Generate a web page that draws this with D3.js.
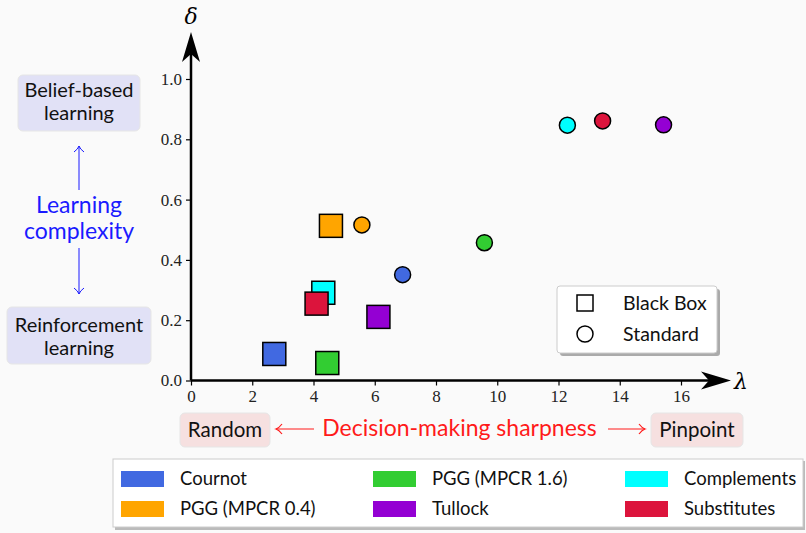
<!DOCTYPE html>
<html>
<head>
<meta charset="utf-8">
<script src="https://cdn.jsdelivr.net/npm/d3@7"></script>
<style>
  body { margin: 0; background: #fafafa; }
  text { font-family: "Lato", sans-serif; }
  .tick text { font-family: "Liberation Serif", serif; font-size: 17px; fill: #222; }
</style>
</head>
<body>
<script>
let w = 806;
let h = 533;

// games and their colours
var games = ["Cournot", "PGG (MPCR 0.4)", "PGG (MPCR 1.6)", "Tullock", "Complements", "Substitutes"];
var gameColors = ["#4169e1", "#ffa500", "#32cd32", "#9400d3", "#00ffff", "#dc143c"];

// (lambda, delta) per game
var blackBoxLambda = [2.72, 4.57, 4.45, 6.12, 4.32, 4.10];
var blackBoxDelta  = [0.088, 0.513, 0.058, 0.211, 0.291, 0.255];
var standardLambda = [6.91, 5.58, 9.58, 15.43, 12.29, 13.44];
var standardDelta  = [0.351, 0.516, 0.457, 0.848, 0.847, 0.861];

var xTicks = [0, 2, 4, 6, 8, 10, 12, 14, 16];
var yTicks = [0.0, 0.2, 0.4, 0.6, 0.8, 1.0];

var svg = d3.select("body").append("svg").attr("width", w).attr("height", h);

let x = d3.scaleLinear().domain([0, 16]).range([191, 681]);
let y = d3.scaleLinear().domain([0, 1]).range([380.5, 79]);

// axes with ticks only, thick arrows drawn separately
var xAxis = d3.axisBottom(x).tickValues(xTicks).tickFormat(d3.format("d")).tickSize(5).tickPadding(4);
var yAxis = d3.axisLeft(y).tickValues(yTicks).tickFormat(d3.format(".1f")).tickSize(5).tickPadding(4);

svg.append("g").attr("transform", "translate(0," + y(0) + ")").call(xAxis)
    .call(g => g.select(".domain").remove());
svg.append("g").attr("transform", "translate(" + x(0) + ",0)").call(yAxis)
    .call(g => g.select(".domain").remove());
svg.selectAll(".tick line").attr("stroke", "#000").attr("stroke-width", 1.2);

// axis lines with arrowheads
svg.append("line").attr("x1", x(0)).attr("y1", y(0)).attr("x2", 712).attr("y2", y(0))
    .attr("stroke", "#000").attr("stroke-width", 2.5);
svg.append("path").attr("d", `M731 ${y(0)} L701 ${y(0) - 9} L709 ${y(0)} L701 ${y(0) + 9} Z`).attr("fill", "#000");
svg.append("line").attr("x1", x(0)).attr("y1", y(0)).attr("x2", x(0)).attr("y2", 50)
    .attr("stroke", "#000").attr("stroke-width", 2.5);
svg.append("path").attr("d", `M${x(0)} 32 L${x(0) - 9} 62 L${x(0)} 54 L${x(0) + 9} 62 Z`).attr("fill", "#000");

svg.append("text").text("λ").attr("x", 741).attr("y", 389)
    .style("font-family", "DejaVu Serif").style("font-style", "italic").style("font-size", "22px").attr("text-anchor", "middle");
svg.append("text").text("δ").attr("x", x(0)).attr("y", 24)
    .style("font-family", "DejaVu Serif").style("font-style", "italic").style("font-size", "22px").attr("text-anchor", "middle");

// data marks
var sq = 23;
svg.selectAll("rect.bb").data(games).enter().append("rect")
    .attr("class", "bb")
    .attr("x", (d, i) => x(blackBoxLambda[i]) - sq / 2)
    .attr("y", (d, i) => y(blackBoxDelta[i]) - sq / 2)
    .attr("width", sq).attr("height", sq)
    .attr("fill", (d, i) => gameColors[i])
    .attr("stroke", "#000").attr("stroke-width", 1.5);

svg.selectAll("circle.std").data(games).enter().append("circle")
    .attr("class", "std")
    .attr("cx", (d, i) => x(standardLambda[i]))
    .attr("cy", (d, i) => y(standardDelta[i]))
    .attr("r", 8)
    .attr("fill", (d, i) => gameColors[i])
    .attr("stroke", "#000").attr("stroke-width", 1.5);

// marker type legend
svg.append("rect").attr("x", 560).attr("y", 289).attr("width", 160).attr("height", 67).attr("rx", 3).attr("fill", "#aaa");
svg.append("rect").attr("x", 557).attr("y", 286).attr("width", 160).attr("height", 67).attr("rx", 3)
    .attr("fill", "#fff").attr("stroke", "#ccc");
svg.append("rect").attr("x", 577).attr("y", 295).attr("width", 16).attr("height", 16).attr("fill", "none").attr("stroke", "#000").attr("stroke-width", 1.5);
svg.append("circle").attr("cx", 585).attr("cy", 334).attr("r", 8).attr("fill", "none").attr("stroke", "#000").attr("stroke-width", 1.5);
svg.append("text").text("Black Box").attr("x", 623).attr("y", 303).attr("dy", "0.35em").style("font-size", "19.5px").attr("fill", "#111");
svg.append("text").text("Standard").attr("x", 623).attr("y", 334).attr("dy", "0.35em").style("font-size", "19.5px").attr("fill", "#111");

// left annotations
function labelBox(x0, y0, bw, bh, fill, lines, cx, ys) {
    svg.append("rect").attr("x", x0).attr("y", y0).attr("width", bw).attr("height", bh).attr("rx", 5)
        .attr("fill", fill).attr("stroke", "#e6e6e6");
    lines.forEach(function(t, i) {
        svg.append("text").text(t).attr("x", cx).attr("y", ys[i]).attr("dy", "0.35em")
            .attr("text-anchor", "middle").style("font-size", "20px").attr("fill", "#111");
    });
}
labelBox(18, 75, 122, 56, "#e1e1f6", ["Belief-based", "learning"], 79, [90, 113]);
labelBox(7, 307, 144, 57, "#e1e1f6", ["Reinforcement", "learning"], 79, [325, 348]);

svg.append("text").text("Learning").attr("x", 79).attr("y", 205).attr("dy", "0.35em")
    .attr("text-anchor", "middle").style("font-size", "23px").attr("fill", "#1a1aff");
svg.append("text").text("complexity").attr("x", 79).attr("y", 231).attr("dy", "0.35em")
    .attr("text-anchor", "middle").style("font-size", "23px").attr("fill", "#1a1aff");
svg.append("line").attr("x1", 79).attr("y1", 190).attr("x2", 79).attr("y2", 146).attr("stroke", "#1a1aff").attr("stroke-width", 1);
svg.append("path").attr("d", "M74 152 Q78 149 79 146 Q80 149 84 152").attr("fill", "none").attr("stroke", "#1a1aff");
svg.append("line").attr("x1", 79).attr("y1", 248).attr("x2", 79).attr("y2", 294).attr("stroke", "#1a1aff").attr("stroke-width", 1);
svg.append("path").attr("d", "M74 288 Q78 291 79 294 Q80 291 84 288").attr("fill", "none").attr("stroke", "#1a1aff");

// bottom annotations
svg.append("rect").attr("x", 180).attr("y", 413).attr("width", 90).attr("height", 34).attr("rx", 5).attr("fill", "#f6e0e0").attr("stroke", "#e6e6e6");
svg.append("text").text("Random").attr("x", 225).attr("y", 430).attr("dy", "0.35em").attr("text-anchor", "middle").style("font-size", "20.5px").attr("fill", "#111");
svg.append("rect").attr("x", 651).attr("y", 413).attr("width", 92).attr("height", 34).attr("rx", 5).attr("fill", "#f6e0e0").attr("stroke", "#e6e6e6");
svg.append("text").text("Pinpoint").attr("x", 697).attr("y", 430).attr("dy", "0.35em").attr("text-anchor", "middle").style("font-size", "20.5px").attr("fill", "#111");
svg.append("text").text("Decision-making sharpness").attr("x", 459.5).attr("y", 428).attr("dy", "0.35em")
    .attr("text-anchor", "middle").style("font-size", "23px").attr("fill", "#ff1a1a");
// red arrows
svg.append("line").attr("x1", 276).attr("y1", 429).attr("x2", 314).attr("y2", 429).attr("stroke", "#ff1a1a").attr("stroke-width", 1.2);
svg.append("path").attr("d", "M282 424 Q279 428 276 429 Q279 430 282 434").attr("fill", "none").attr("stroke", "#ff1a1a").attr("stroke-width", 1.2);
svg.append("line").attr("x1", 608).attr("y1", 429).attr("x2", 645).attr("y2", 429).attr("stroke", "#ff1a1a").attr("stroke-width", 1.2);
svg.append("path").attr("d", "M639 424 Q642 428 645 429 Q642 430 639 434").attr("fill", "none").attr("stroke", "#ff1a1a").attr("stroke-width", 1.2);

// game colour legend
svg.append("rect").attr("x", 115).attr("y", 461).attr("width", 690).attr("height", 69).attr("fill", "#bbb");
svg.append("rect").attr("x", 113).attr("y", 459).attr("width", 690).attr("height", 68).attr("fill", "#fff").attr("stroke", "#ccc");
var colX = [121, 373, 625];
var rowY = [479, 509];
var legendOrder = [0, 1, 2, 3, 4, 5];
legendOrder.forEach(function(gi, k) {
    var cx = colX[Math.floor(k / 2)];
    var cy = rowY[k % 2];
    svg.append("rect").attr("x", cx).attr("y", cy - 8).attr("width", 43).attr("height", 16).attr("fill", gameColors[gi]);
    svg.append("text").text(games[gi]).attr("x", cx + 59).attr("y", cy).attr("dy", "0.35em").style("font-size", "18.5px").attr("fill", "#111");
});
</script>
</body>
</html>
